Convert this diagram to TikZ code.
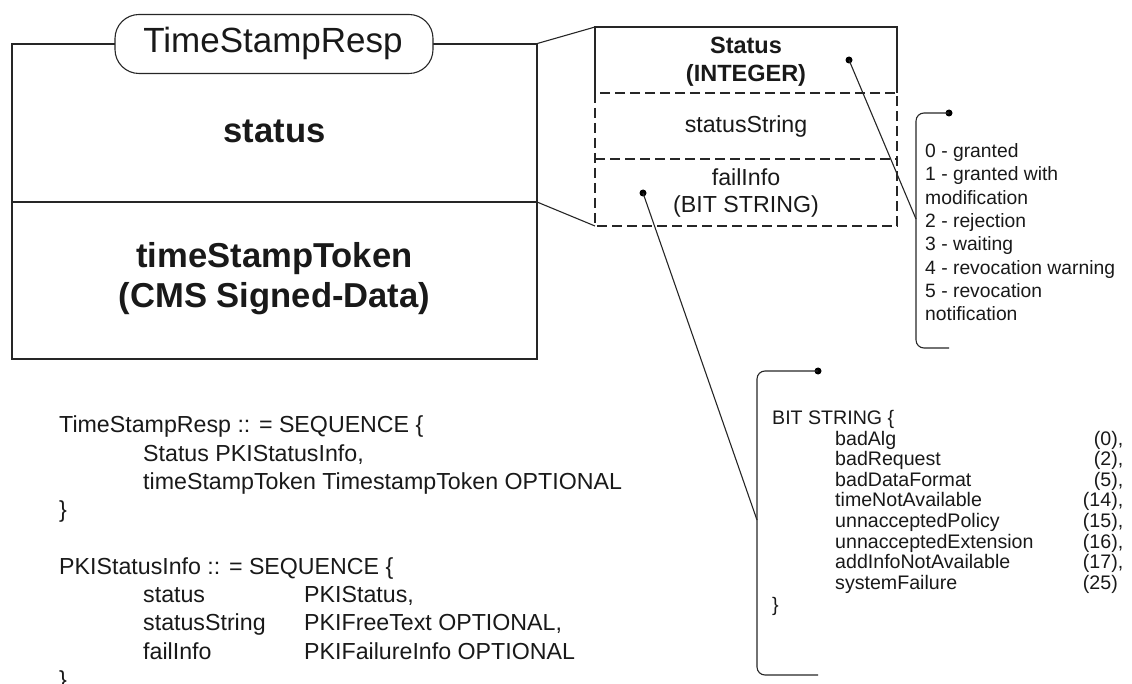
\documentclass[tikz,border=0pt]{standalone}
\usepackage{fontspec}
\setmainfont{Liberation Sans}
\newcommand\fbig{\fontsize{34.6}{40}\selectfont}
\newcommand\ftitle{\fontsize{35}{40}\selectfont}
\newcommand\fmid{\fontsize{23.2}{28}\selectfont}
\newcommand\fmidb{\fontsize{23.5}{28}\selectfont}
\newcommand\fsmall{\fontsize{19.3}{23}\selectfont}
\newcommand\fbit{\fontsize{19.6}{23}\selectfont}
\begin{document}
\begin{tikzpicture}[x=1pt,y=-1pt,
  ln/.style={draw=black!85, line width=1.1pt},
  dashln/.style={draw=black!85, line width=1.1pt, dash pattern=on 10pt off 5pt},
  txt/.style={inner sep=0pt, text=black!90},
  codeline/.style={txt, anchor=base west, font=\fmid},
  listline/.style={txt, anchor=base west, font=\fsmall},
  bitline/.style={txt, anchor=base west, font=\fbit},
  bitnum/.style={txt, anchor=base east, font=\fbit},
  dotmark/.style={fill=black, circle, inner sep=0pt, minimum size=7pt}]
\useasboundingbox (0,0) rectangle (1132,684);

% ---- left box ----
\node[ln, draw, minimum width=525pt, minimum height=315pt, inner sep=0pt] (lbox) at (274.5,201.5) {};
\coordinate (ldivW) at (12,202);
\coordinate (ldivE) at (537,202);
\draw[ln] (ldivW) -- (ldivE);
\node[ln, draw, fill=white, rounded corners=24pt, minimum width=318pt, minimum height=59pt, inner sep=0pt] (pill) at (274,44) {};
\node[txt, anchor=base, font=\ftitle] (ptext) at (273,53) {TimeStampResp};
\node[txt, anchor=base, font=\fbig\bfseries] (tstatus) at (274.5,143) {status};
\node[txt, anchor=base, font=\fbig\bfseries] (ttoken) at (274.5,268) {timeStampToken};
\node[txt, anchor=base, font=\fbig\bfseries] (tcms) at (274.5,308) {(CMS Signed-Data)};

% ---- right box ----
\coordinate (rA) at (595,27);
\coordinate (rB) at (897,27);
\coordinate (rC) at (595,93);
\coordinate (rD) at (897,93);
\coordinate (rE) at (595,159);
\coordinate (rF) at (897,159);
\coordinate (rG) at (595,226);
\coordinate (rH) at (897,226);
\draw[ln] (rC) -- (rA) -- (rB) -- (rD);
\draw[dashln] (rC) -- (rG) -- (rH) -- (rD) -- cycle;
\draw[dashln] (rE) -- (rF);
\draw[ln] (lbox.north east) -- (rA);
\draw[ln] (ldivE) -- (rG);

\node[txt, anchor=base, font=\fmidb\bfseries] (rstat) at (746,53.3) {Status};
\node[txt, anchor=base, font=\fmidb\bfseries] (rint) at (746,81.7) {(INTEGER)};
\node[txt, anchor=base, font=\fmid] (rstr) at (746,133) {statusString};
\node[txt, anchor=base, font=\fmid] (rfail) at (746,185.5) {failInfo};
\node[txt, anchor=base, font=\fmid] (rbit) at (746,213) {(BIT STRING)};

\node[dotmark] (dot1) at (849,60) {};
\node[dotmark] (dot2) at (643,193) {};

% ---- bracket 1 ----
\node[dotmark] (b1dot) at (949,113) {};
\coordinate (b1bot) at (949,348);
\coordinate (b1hit) at (916,219);
\draw[ln, rounded corners=8pt] (b1dot.center) -- (916,113) -- (916,348) -- (b1bot);
\draw[ln] (dot1.center) -- (b1hit);
\node[listline] (l0) at (925,157.5) {0 - granted};
\node[listline] (l1) at (925,180.9) {1 - granted with};
\node[listline] (l1b) at (925,204.2) {modification};
\node[listline] (l2) at (925,227.6) {2 - rejection};
\node[listline] (l3) at (925,250.9) {3 - waiting};
\node[listline] (l4) at (925,274.3) {4 - revocation warning};
\node[listline] (l5) at (925,297.6) {5 - revocation};
\node[listline] (l5b) at (925,321) {notification};

% ---- bracket 2 ----
\node[dotmark] (b2dot) at (818,371) {};
\coordinate (b2bot) at (818,675);
\coordinate (b2hit) at (757,520);
\draw[ln, rounded corners=8pt] (b2dot.center) -- (757,371) -- (757,675) -- (b2bot);
\draw[ln] (dot2.center) -- (b2hit);
\node[bitline] (bs) at (772,424) {BIT STRING \{};
\node[bitline] (i0) at (835,445) {badAlg};
\node[bitline] (i1) at (835,465.6) {badRequest};
\node[bitline] (i2) at (835,486.2) {badDataFormat};
\node[bitline] (i3) at (835,506.8) {timeNotAvailable};
\node[bitline] (i4) at (835,527.4) {unnacceptedPolicy};
\node[bitline] (i5) at (835,548) {unnacceptedExtension};
\node[bitline] (i6) at (835,568.6) {addInfoNotAvailable};
\node[bitline] (i7) at (835,589.2) {systemFailure};
\node[bitnum] (n0) at (1118,445) {(0)\rlap{,}};
\node[bitnum] (n1) at (1118,465.6) {(2)\rlap{,}};
\node[bitnum] (n2) at (1118,486.2) {(5)\rlap{,}};
\node[bitnum] (n3) at (1118,506.8) {(14)\rlap{,}};
\node[bitnum] (n4) at (1118,527.4) {(15)\rlap{,}};
\node[bitnum] (n5) at (1118,548) {(16)\rlap{,}};
\node[bitnum] (n6) at (1118,568.6) {(17)\rlap{,}};
\node[bitnum] (n7) at (1118,589.2) {(25)};
\node[bitline] (be) at (772,611) {\}};

% ---- code block ----
\node[codeline] (c1) at (59,432.7) {TimeStampResp :: = SEQUENCE \{};
\node[codeline] (c2) at (143,461) {Status PKIStatusInfo,};
\node[codeline] (c3) at (143,489.3) {timeStampToken TimestampToken OPTIONAL};
\node[codeline] (c4) at (59,517.6) {\}};
\node[codeline] (c5) at (59,574.2) {PKIStatusInfo :: = SEQUENCE \{};
\node[codeline] (c6) at (143,602.5) {status};
\node[codeline] (c6b) at (304,602.5) {PKIStatus,};
\node[codeline] (c7) at (143,630.8) {statusString};
\node[codeline] (c7b) at (304,630.8) {PKIFreeText OPTIONAL,};
\node[codeline] (c8) at (143,659.1) {failInfo};
\node[codeline] (c8b) at (304,659.1) {PKIFailureInfo OPTIONAL};
\node[codeline] (c9) at (59,687.4) {\}};
\end{tikzpicture}
\end{document}
